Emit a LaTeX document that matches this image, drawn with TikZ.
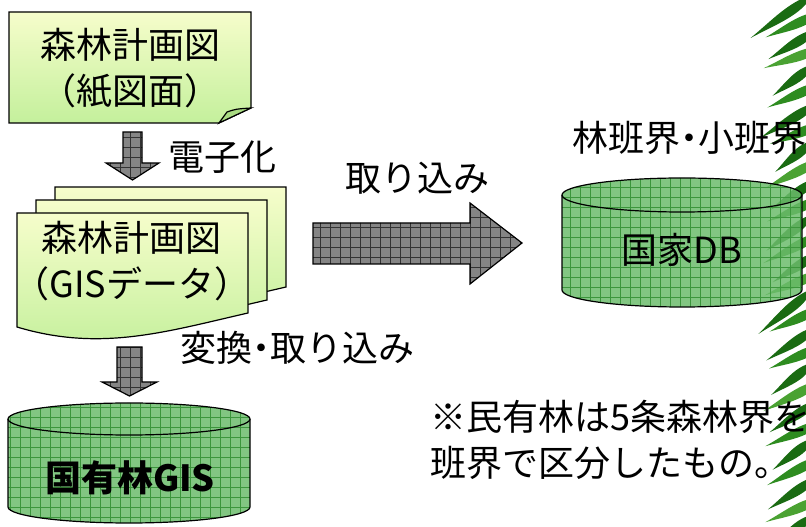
\documentclass[tikz,border=0pt]{standalone}
\usepackage{fontspec}
\setmainfont{Noto Sans CJK JP}
\usetikzlibrary{backgrounds}

\definecolor{docTop}{HTML}{F6FDCB}
\definecolor{docBot}{HTML}{C4F09C}
\definecolor{flapGreen}{HTML}{A9DB82}
\definecolor{arrowGray}{HTML}{858585}
\definecolor{dbGreen}{HTML}{6CBC6C}
\definecolor{dbLine}{HTML}{3C963C}
\definecolor{leafDark}{HTML}{1A6B12}
\definecolor{leafMid}{HTML}{2E8C20}
\definecolor{leafLight}{HTML}{4AA232}

\begin{document}
\begin{tikzpicture}[
    x=1pt, y=1pt,
    lbl/.style={font=\fontsize{36}{46}\selectfont, inner sep=0pt},
    docshape/.style={draw=black, line width=1.2pt, top color=docTop, bottom color=docBot},
    outline/.style={draw=black, line width=1.2pt},
    blockarrow/.style={outline, fill=arrowGray,
      path picture={\draw[line width=0.6pt, black!80]
        (path picture bounding box.south west) grid[step=10] (path picture bounding box.north east);}},
    dbshape/.style={outline, fill=dbGreen, fill opacity=0.85,
      path picture={\draw[line width=0.45pt, dbLine]
        (path picture bounding box.south west) grid[step=10] (path picture bounding box.north east);}}
  ]
  \useasboundingbox (0,0) rectangle (806,527);

  % labels
  \node[lbl, align=center] (paper) at (130,459) {森林計画図\\（紙図面）};
  \node[lbl] (digitize) at (222,370) {電子化};
  \node[lbl, align=center] (gisdoc) at (132,266) {森林計画図\\（GISデータ）};
  \node[lbl] (import) at (417,349) {取り込み};
  \node[lbl, anchor=west] (convert) at (180,179) {変換\kern-9pt・\kern-9pt取り込み};
  \node[lbl, anchor=west] (boundary) at (572,389) {林班界\kern-9pt・\kern-9pt小班界};
  \node[lbl] (nationdb) at (682,277) {国家DB};
  \node[lbl, font=\fontsize{36}{46}\selectfont\bfseries] (kokuyu) at (130,49) {国有林GIS};
  \node[lbl, align=left, anchor=west] (note) at (430,87) {※民有林は5条森林界を\\班界で区分したもの。};

  \begin{scope}[on background layer]
    % bamboo leaves down the right edge
    \foreach \x/\y/\a/\l/\c in {
        812/532/215/75/leafDark, 820/515/205/60/leafMid, 815/497/212/55/leafDark,
        822/480/200/62/leafLight, 812/462/218/50/leafDark, 820/444/205/58/leafMid,
        816/424/212/66/leafDark, 822/404/202/56/leafMid, 812/386/220/48/leafDark,
        820/368/208/62/leafLight, 816/348/214/55/leafDark, 822/330/204/60/leafMid,
        812/312/218/58/leafDark, 820/294/208/64/leafMid, 816/274/214/52/leafDark,
        822/256/203/62/leafLight, 812/238/220/70/leafDark, 820/220/206/56/leafMid,
        816/200/214/60/leafDark, 822/182/204/58/leafMid, 812/164/218/52/leafDark,
        820/146/208/64/leafLight, 816/126/214/56/leafDark, 822/106/204/62/leafMid,
        812/88/218/50/leafDark, 820/70/208/60/leafMid, 816/50/214/58/leafDark,
        822/30/204/62/leafLight, 812/12/218/54/leafDark}
      \fill[\c, rotate around={\a:(\x,\y)}] (\x,\y)
        .. controls +(0.25*\l,11) and +(-0.35*\l,3) .. ++(\l,0)
        .. controls +(-0.35*\l,-2) and +(0.3*\l,-8) .. (\x,\y) -- cycle;

    % paper map, folded corner
    \path[docshape] (9,515) -- (251,515) -- (251,419) -- (219,404) -- (9,404) -- cycle;
    \filldraw[fill=flapGreen, line width=1.2pt] (219,404) -- (227,415) .. controls (236,418) .. (251,419) -- cycle;

    % stack of GIS sheets
    \foreach \s in {38,19,0}
      \path[docshape, shift={(\s,0.684*\s)}]
        (17,314) -- (248,314) -- (248,214) .. controls (165,195) and (100,175) .. (17,200) -- cycle;

    % national database
    \path[dbshape] (562,332) -- (562,237) arc[start angle=180, end angle=360, x radius=120, y radius=17]
      -- (802,332) arc[start angle=0, end angle=180, x radius=120, y radius=17] -- cycle;
    \draw[line width=1.2pt] (562,332) arc[start angle=180, end angle=360, x radius=120, y radius=17];

    % national forest GIS
    \path[dbshape] (8,108) -- (8,20) arc[start angle=180, end angle=360, x radius=121, y radius=16]
      -- (250,108) arc[start angle=0, end angle=180, x radius=121, y radius=16] -- cycle;
    \draw[line width=1.2pt] (8,108) arc[start angle=180, end angle=360, x radius=121, y radius=16];
  \end{scope}

  % block arrows
  \path[blockarrow] (123,395) -- (142,395) -- (142,364) -- (159,364) -- (132.5,347)
    -- (106,364) -- (123,364) -- cycle;
  \path[blockarrow] (313,304) -- (470,304) -- (470,324) -- (522,284) -- (470,243)
    -- (470,263) -- (313,263) -- cycle;
  \path[blockarrow] (117,180) -- (142,180) -- (142,145) -- (157,145) -- (129.5,131)
    -- (102,145) -- (117,145) -- cycle;
\end{tikzpicture}
\end{document}
